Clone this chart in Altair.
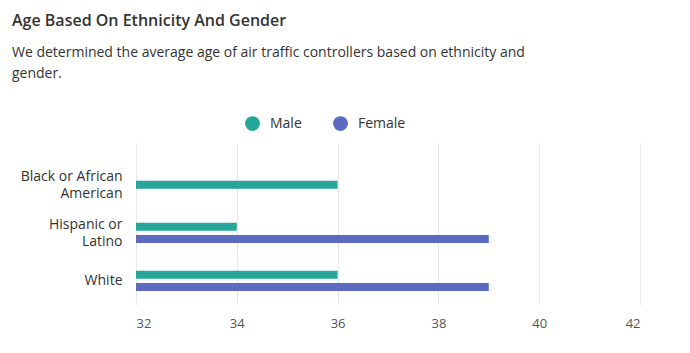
import altair as alt
import pandas as pd

categories = ["Black or African American", "Hispanic or Latino", "Hispanic or Latino", "White", "White"]
genders = ["Male", "Male", "Female", "Male", "Female"]
ages = [36, 34, 39, 36, 39]
slots = ["mid", "top", "bot", "top", "bot"]
x_ticks = [32, 34, 36, 38, 40, 42]

df = pd.DataFrame({"Ethnicity": categories, "Gender": genders, "Age": ages, "slot": slots})

FONT = "Open Sans"

bars = alt.Chart(df).mark_bar(height=8, cornerRadius=0).encode(
    x=alt.X("Age:Q",
            scale=alt.Scale(domain=[32, 42], zero=False, nice=False),
            axis=alt.Axis(values=x_ticks, title=None, domain=False, ticks=False,
                          grid=True, gridColor="#e9e9e9", labelColor="#555",
                          labelFontSize=13, labelPadding=12, labelFont=FONT)),
    x2=alt.datum(32),
    y=alt.Y("Ethnicity:N",
            sort=["Black or African American", "Hispanic or Latino", "White"],
            scale=alt.Scale(paddingInner=0.616, paddingOuter=0.4955, align=0.685),
            axis=alt.Axis(title=None, domain=False, ticks=False, grid=False,
                          labelColor="#333", labelFontSize=14, labelFont=FONT,
                          labelPadding=14, labelLineHeight=17,
                          labelOffset={"condition": {"test": "datum.value != 'White'", "value": -8}, "value": 0},
                          labelExpr="datum.label == 'Black or African American' ? ['Black or African', 'American'] : datum.label == 'Hispanic or Latino' ? ['Hispanic or', 'Latino'] : datum.label")),
    yOffset=alt.YOffset("slot:N", sort=["top", "mid", "bot"],
                        scale=alt.Scale(domain=["top", "mid", "bot"], paddingInner=0, paddingOuter=0)),
    color=alt.Color("Gender:N",
                    scale=alt.Scale(domain=["Male", "Female"], range=["#26a69a", "#5c6bc0"]),
                    legend=alt.Legend(title=None, orient="none", legendX=109, legendY=-27,
                                      direction="horizontal", symbolType="circle",
                                      symbolSize=220, symbolStrokeWidth=0,
                                      labelFontSize=14, labelColor="#333", labelFont=FONT,
                                      labelOffset=10, columnPadding=31)),
)

chart = bars.properties(
    width=504,
    height=162,
    title=alt.TitleParams(
        text="Age Based On Ethnicity And Gender",
        subtitle=["We determined the average age of air traffic controllers based on ethnicity and", "gender."],
        anchor="start", frame="group", dx=-124, offset=35,
        font=FONT, fontSize=16, fontWeight=600, color="#333",
        subtitleFont=FONT, subtitleFontSize=14, subtitleColor="#333",
        subtitleLineHeight=21, subtitlePadding=17,
    ),
    autosize=alt.AutoSizeParams(type="none"),
    padding={"left": 136, "top": 143, "right": 50, "bottom": 48},
).configure_view(stroke=None)

chart.save("out.html", embed_options={"renderer": "svg", "actions": False})
